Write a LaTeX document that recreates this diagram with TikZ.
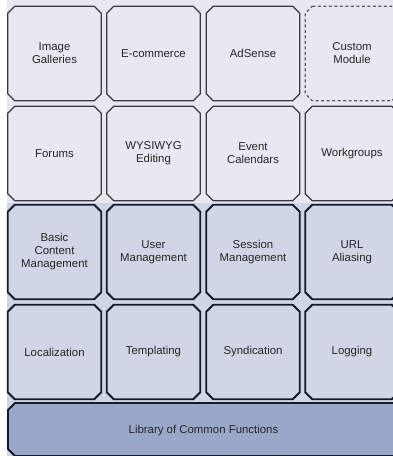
\documentclass[tikz,border=0pt]{standalone}
\usepackage{fontspec}
\setmainfont{Liberation Sans}
\definecolor{lightbg}{HTML}{E7E9F2}
\definecolor{midbg}{HTML}{D1D6E7}
\definecolor{libbg}{HTML}{9BA7C9}
\definecolor{topline}{HTML}{3A3A3E}
\definecolor{botline}{HTML}{121A2C}
\definecolor{dashline}{HTML}{5A5A60}
\newcommand\octpath[2]{%
  \path[#2] ([xshift=7pt]#1.north west) -- ([xshift=-7pt]#1.north east) -- ([yshift=-7pt]#1.north east)
    -- ([yshift=7pt]#1.south east) -- ([xshift=-7pt]#1.south east) -- ([xshift=7pt]#1.south west)
    -- ([yshift=7pt]#1.south west) -- ([yshift=-7pt]#1.north west) -- cycle;}
\begin{document}
\begin{tikzpicture}[x=1pt,y=-1pt,
  modbox/.style={rectangle, minimum width=93.5pt, minimum height=94.5pt, inner sep=0pt, outer sep=0pt, align=center,
    font=\fontsize{11.4}{13}\selectfont, text=black!85},
  topline/.style={draw=topline, line width=1.1pt},
  dashline/.style={draw=dashline, line width=1.1pt, dash pattern=on 3pt off 2.5pt},
  coreline/.style={draw=botline, line width=1.8pt},
  libline/.style={draw=botline, line width=1.8pt, fill=libbg}]
\useasboundingbox (0,0) rectangle (393,456);
\clip (0,0) rectangle (393,456);
\fill[white] (0,0) rectangle (393,456);
\fill[lightbg] (7,0) rectangle (393,203);
\fill[midbg] (7,203) rectangle (393,456);
% row 1
\node[modbox] (img) at (54.5,53.5) {Image\\Galleries};
\node[modbox] (ecom) at (153.5,53.5) {E-commerce};
\node[modbox] (ads) at (253,53.5) {AdSense};
\node[modbox] (cust) at (352,53.5) {Custom\\Module};
% row 2
\node[modbox] (forum) at (54.5,153.5) {Forums};
\node[modbox] (wys) at (153.5,153.5) {WYSIWYG\\Editing};
\node[modbox] (evt) at (253,153.5) {Event\\Calendars};
\node[modbox] (wg) at (352,153.5) {Workgroups};
% row 3
\node[modbox] (bcm) at (54.5,252) {Basic\\Content\\Management};
\node[modbox] (user) at (153.5,252) {User\\Management};
\node[modbox] (sess) at (253,252) {Session\\Management};
\node[modbox] (url) at (352,252) {URL\\Aliasing};
% row 4
\node[modbox] (loc) at (54.5,352) {Localization};
\node[modbox] (tpl) at (153.5,352) {Templating};
\node[modbox] (synd) at (253,352) {Syndication};
\node[modbox] (log) at (352,352) {Logging};
% outlines
\foreach \n in {img,ecom,ads,forum,wys,evt,wg}{\octpath{\n}{topline}}
\octpath{cust}{dashline}
\foreach \n in {bcm,user,sess,url,loc,tpl,synd,log}{\octpath{\n}{coreline}}
% library
\node[rectangle, minimum width=422pt, minimum height=53pt, inner sep=0pt, outer sep=0pt] (lib) at (219,429.5) {};
\octpath{lib}{libline}
\node[font=\fontsize{11.4}{13}\selectfont, text=black!85] (libtxt) at (203.5,431) {Library of Common Functions};
\end{tikzpicture}
\end{document}
